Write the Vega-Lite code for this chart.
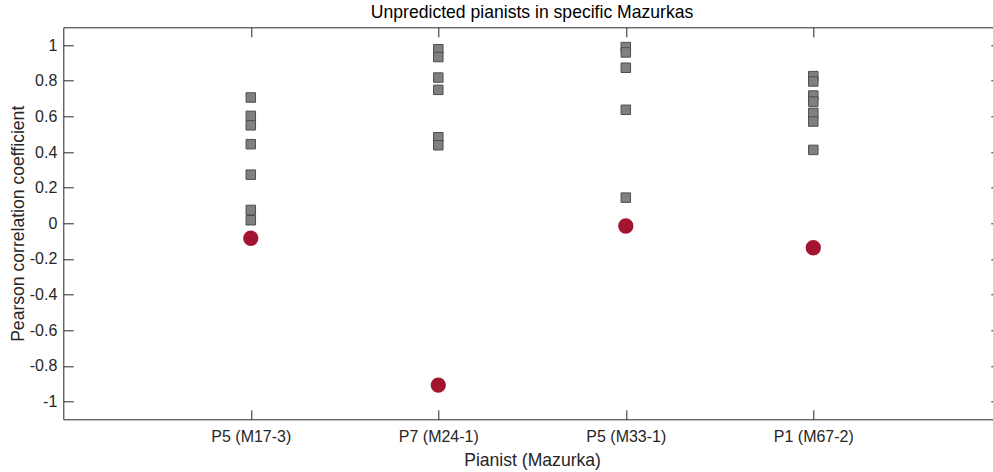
{
  "$schema": "https://vega.github.io/schema/vega-lite/v6.json",
  "width": 937.5,
  "height": 392,
  "autosize": {"type": "none"},
  "padding": {"left": 63.3, "top": 27.3, "right": 0, "bottom": 52.7},
  "background": "white",
  "title": {
    "text": "Unpredicted pianists in specific Mazurkas",
    "font": "Liberation Sans",
    "fontSize": 17.6,
    "fontWeight": "normal",
    "color": "#000000",
    "anchor": "middle",
    "offset": 5
  },
  "config": {
    "view": {"stroke": null},
    "axis": {
      "grid": false,
      "domain": true,
      "domainColor": "#262626",
      "tickColor": "#262626",
      "domainWidth": 1,
      "tickWidth": 1,
      "labelFont": "Liberation Sans",
      "labelFontSize": 16,
      "labelColor": "#262626",
      "titleFont": "Liberation Sans",
      "titleFontSize": 17.6,
      "titleFontWeight": "normal",
      "titleColor": "#262626"
    }
  },
  "data": {
    "values": [
      {"pianist": "P5 (M17-3)", "kind": "others", "r": 0.706},
      {"pianist": "P5 (M17-3)", "kind": "others", "r": 0.603},
      {"pianist": "P5 (M17-3)", "kind": "others", "r": 0.55},
      {"pianist": "P5 (M17-3)", "kind": "others", "r": 0.444},
      {"pianist": "P5 (M17-3)", "kind": "others", "r": 0.273},
      {"pianist": "P5 (M17-3)", "kind": "others", "r": 0.075},
      {"pianist": "P5 (M17-3)", "kind": "others", "r": 0.017},
      {"pianist": "P5 (M17-3)", "kind": "target", "r": -0.084},
      {"pianist": "P7 (M24-1)", "kind": "others", "r": 0.977},
      {"pianist": "P7 (M24-1)", "kind": "others", "r": 0.933},
      {"pianist": "P7 (M24-1)", "kind": "others", "r": 0.818},
      {"pianist": "P7 (M24-1)", "kind": "others", "r": 0.749},
      {"pianist": "P7 (M24-1)", "kind": "others", "r": 0.483},
      {"pianist": "P7 (M24-1)", "kind": "others", "r": 0.438},
      {"pianist": "P7 (M24-1)", "kind": "target", "r": -0.908},
      {"pianist": "P5 (M33-1)", "kind": "others", "r": 0.989},
      {"pianist": "P5 (M33-1)", "kind": "others", "r": 0.959},
      {"pianist": "P5 (M33-1)", "kind": "others", "r": 0.873},
      {"pianist": "P5 (M33-1)", "kind": "others", "r": 0.637},
      {"pianist": "P5 (M33-1)", "kind": "others", "r": 0.144},
      {"pianist": "P5 (M33-1)", "kind": "target", "r": -0.015},
      {"pianist": "P1 (M67-2)", "kind": "others", "r": 0.826},
      {"pianist": "P1 (M67-2)", "kind": "others", "r": 0.796},
      {"pianist": "P1 (M67-2)", "kind": "others", "r": 0.717},
      {"pianist": "P1 (M67-2)", "kind": "others", "r": 0.683},
      {"pianist": "P1 (M67-2)", "kind": "others", "r": 0.62},
      {"pianist": "P1 (M67-2)", "kind": "others", "r": 0.571},
      {"pianist": "P1 (M67-2)", "kind": "others", "r": 0.412},
      {"pianist": "P1 (M67-2)", "kind": "target", "r": -0.137}
    ]
  },
  "layer": [
    {
      "transform": [{"filter": "datum.kind == 'others'"}],
      "mark": {"type": "point", "shape": "square", "filled": true, "fill": "#808080", "stroke": "#4d4d4d", "strokeWidth": 1, "size": 90, "opacity": 1},
      "encoding": {
        "x": {
          "field": "pianist", "type": "nominal",
          "scale": {"type": "point", "padding": 1, "domain": ["P5 (M17-3)", "P7 (M24-1)", "P5 (M33-1)", "P1 (M67-2)"]},
          "axis": {"orient": "bottom", "title": "Pianist (Mazurka)", "domain": true, "tickSize": -9.5, "labelPadding": 19.2, "labelAngle": 0, "titlePadding": 7}
        },
        "y": {
          "field": "r", "type": "quantitative",
          "scale": {"domain": [-1.1, 1.1], "nice": false, "zero": false},
          "axis": {"orient": "left", "title": "Pearson correlation coefficient", "values": [-1, -0.8, -0.6, -0.4, -0.2, 0, 0.2, 0.4, 0.6, 0.8, 1], "labelExpr": "'' + datum.value", "tickSize": -10, "labelPadding": 16.5, "titlePadding": 2}
        }
      }
    },
    {
      "transform": [{"filter": "datum.kind == 'target'"}],
      "mark": {"type": "circle", "color": "#A2142F", "size": 235, "opacity": 1},
      "encoding": {
        "x": {
          "field": "pianist", "type": "nominal",
          "axis": {"orient": "top", "title": null, "labels": false, "domain": true, "tickSize": -9.5}
        },
        "y": {
          "field": "r", "type": "quantitative",
          "axis": {"orient": "right", "title": null, "labels": false, "values": [-1, -0.8, -0.6, -0.4, -0.2, 0, 0.2, 0.4, 0.6, 0.8, 1], "tickSize": -10}
        }
      }
    }
  ],
  "resolve": {"axis": {"x": "independent", "y": "independent"}}
}
